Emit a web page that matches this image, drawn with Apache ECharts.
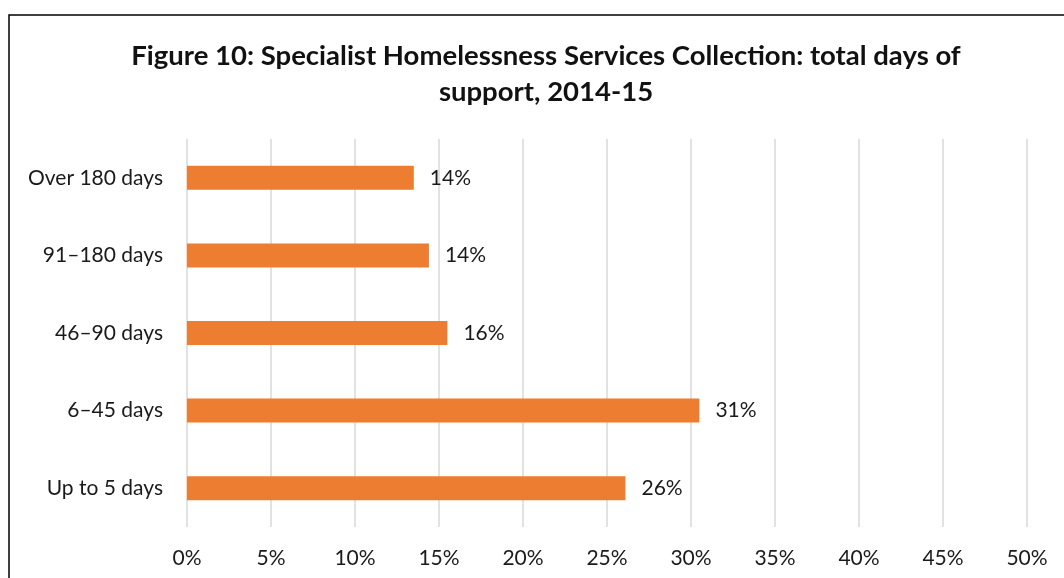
<!DOCTYPE html>
<html>
<head>
<meta charset="utf-8">
<script src="https://cdn.jsdelivr.net/npm/echarts@6/dist/echarts.min.js"></script>
<style>
html,body{margin:0;padding:0;background:#fff;}
#chart{width:1064px;height:578px;}
</style>
</head>
<body>
<div id="chart"></div>
<script>
const categories = ['Up to 5 days', '6–45 days', '46–90 days', '91–180 days', 'Over 180 days'];
const values = [26.1, 30.5, 15.5, 14.4, 13.5];
const tickValues = [0, 5, 10, 15, 20, 25, 30, 35, 40, 45, 50];
const titleLines = ['Figure 10: Specialist Homelessness Services Collection: total days of', 'support, 2014-15'];

const chart = echarts.init(document.getElementById('chart'));
const font = 'Lato, "Open Sans", sans-serif';
chart.setOption({
  animation: false,
  backgroundColor: '#fff',
  title: {
    text: titleLines.join('\n'),
    left: 541,
    top: 33,
    textAlign: 'center',
    textStyle: {fontFamily: font, fontSize: 27.5, fontWeight: 'bold', color: '#111', lineHeight: 36}
  },
  graphic: [{
    type: 'rect', silent: true,
    shape: {x: 9, y: 15, width: 1200, height: 700},
    style: {fill: 'none', stroke: '#000', lineWidth: 1.5}
  }],
  grid: {left: 187, right: 37, top: 139, bottom: 51, containLabel: false},
  xAxis: {
    type: 'value', min: tickValues[0], max: tickValues[tickValues.length - 1], interval: 5,
    axisLine: {show: false}, axisTick: {show: false},
    splitLine: {lineStyle: {color: '#d9d9d9', width: 1.5}},
    axisLabel: {fontFamily: font, fontSize: 21, color: '#1a1a1a', margin: 21, formatter: v => v + '%'}
  },
  yAxis: {
    type: 'category', data: categories,
    axisLine: {show: false}, axisTick: {show: false},
    axisLabel: {fontFamily: font, fontSize: 21, color: '#1a1a1a', margin: 24}
  },
  series: [{
    type: 'bar', data: values, barWidth: 24,
    itemStyle: {color: '#ED7D31'},
    label: {show: true, position: 'right', distance: 16, fontFamily: font, fontSize: 21, color: '#1a1a1a',
      formatter: p => Math.round(p.value) + '%'}
  }]
});
</script>
</body>
</html>
